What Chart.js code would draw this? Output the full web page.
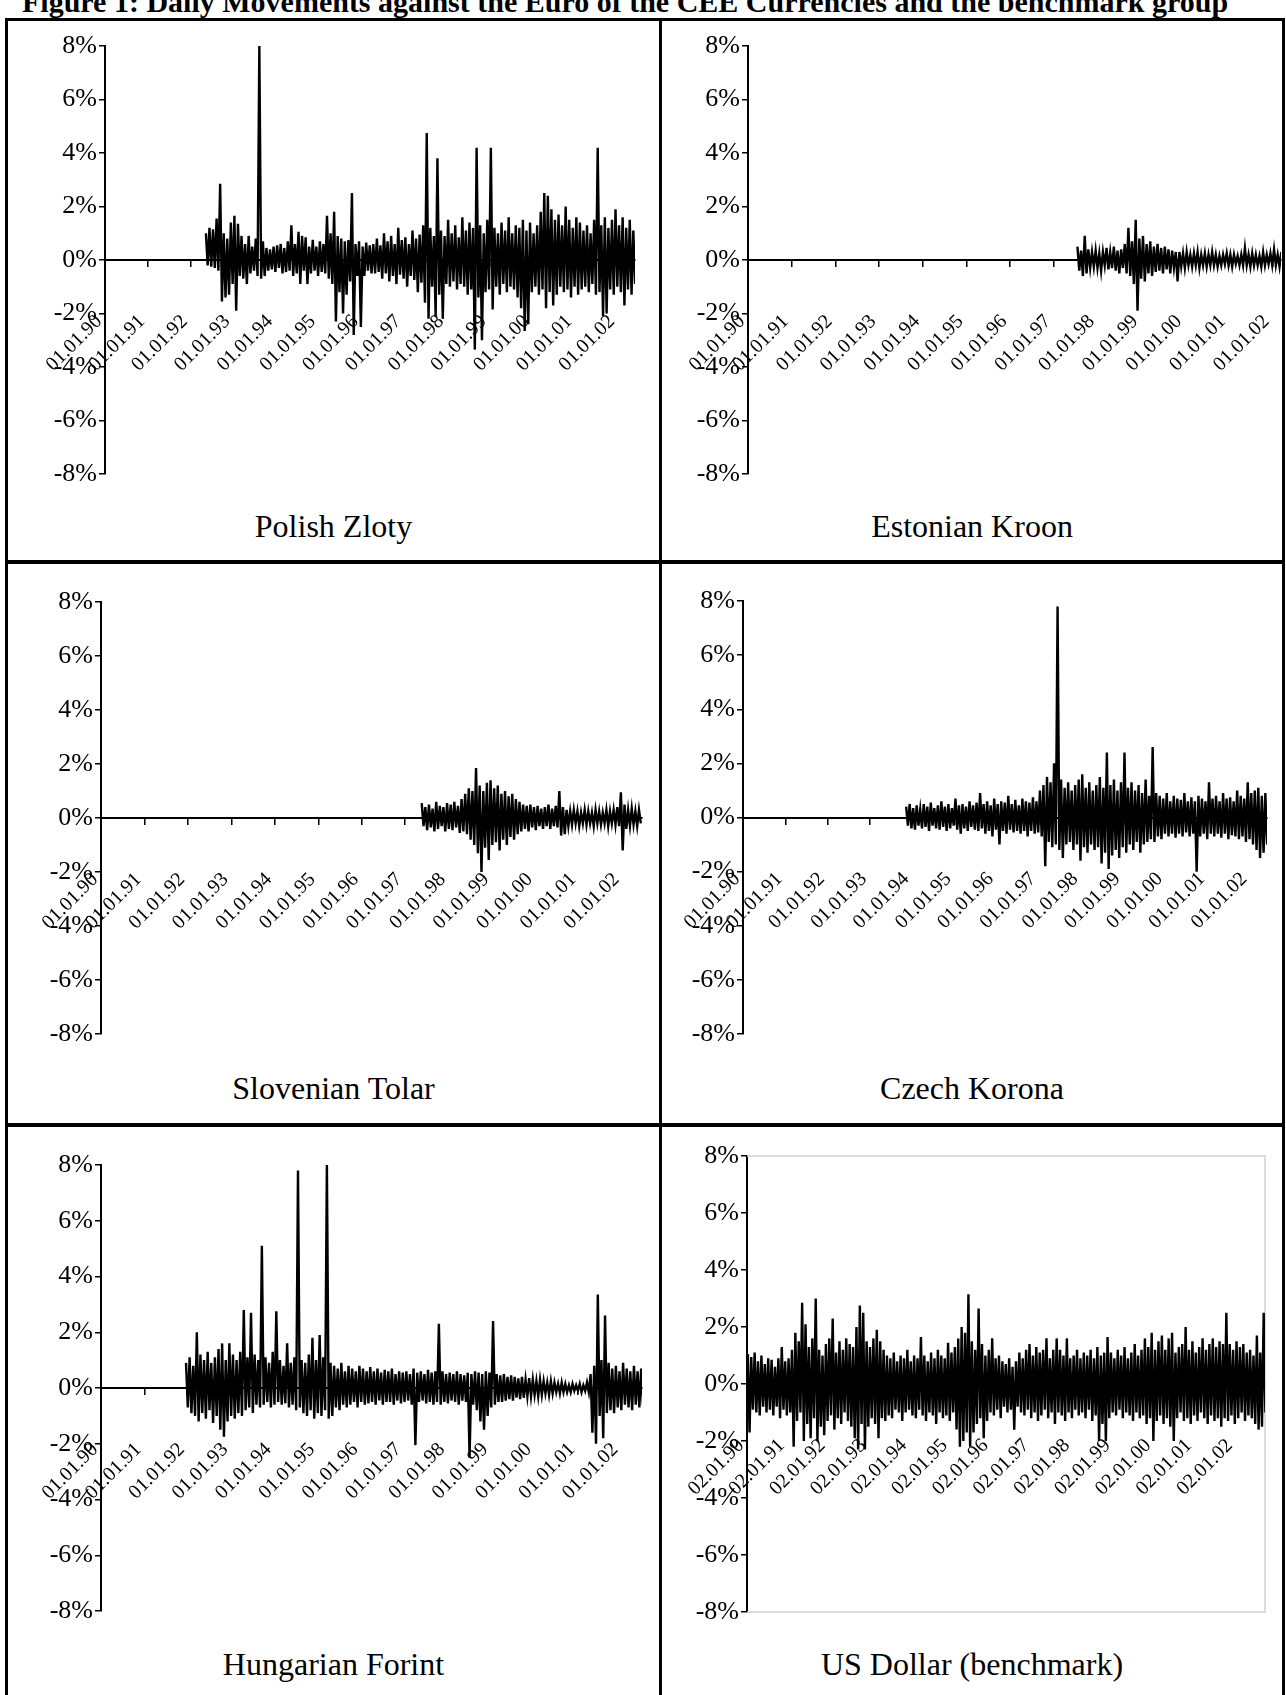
<!DOCTYPE html>
<html><head><meta charset="utf-8">
<script src="https://cdn.jsdelivr.net/npm/chart.js@4/dist/chart.umd.min.js"></script>
<style>
html,body{margin:0;padding:0;background:#fff;}
body{width:1286px;height:1695px;position:relative;overflow:hidden;font-family:"Liberation Serif","Times New Roman",serif;color:#000;}
.ln{position:absolute;background:#000;}
canvas{position:absolute;}
.pt{position:absolute;text-align:center;font-size:32px;line-height:32px;white-space:nowrap;}
#title{position:absolute;left:22px;top:-13px;font-weight:bold;font-size:30px;line-height:30px;white-space:nowrap;}
</style></head><body>
<div id="title">Figure 1: Daily Movements against the Euro of the CEE Currencies and the benchmark group</div>
<div class="ln" style="left:5px;top:18px;width:1280px;height:3px"></div>
<div class="ln" style="left:5px;top:18px;width:3px;height:1700px"></div>
<div class="ln" style="left:1282px;top:18px;width:3px;height:1700px"></div>
<div class="ln" style="left:659px;top:18px;width:3px;height:1700px"></div>
<div class="ln" style="left:5px;top:560px;width:1280px;height:4px"></div>
<div class="ln" style="left:5px;top:1123px;width:1280px;height:4px"></div>

<canvas id="c1" width="592" height="460" style="left:45px;top:30px"></canvas>
<canvas id="c2" width="595" height="460" style="left:688px;top:30px"></canvas>
<canvas id="c3" width="603" height="464" style="left:41px;top:586px"></canvas>
<canvas id="c4" width="586" height="465" style="left:683px;top:585px"></canvas>
<canvas id="c5" width="603" height="478" style="left:41px;top:1149px"></canvas>
<canvas id="c6" width="580" height="488" style="left:687px;top:1140px"></canvas>

<div class="pt" style="left:8px;width:651px;top:510px">Polish Zloty</div>
<div class="pt" style="left:662px;width:620px;top:510px">Estonian Kroon</div>
<div class="pt" style="left:8px;width:651px;top:1072px">Slovenian Tolar</div>
<div class="pt" style="left:662px;width:620px;top:1072px">Czech Korona</div>
<div class="pt" style="left:8px;width:651px;top:1648px">Hungarian Forint</div>
<div class="pt" style="left:662px;width:620px;top:1648px">US Dollar (benchmark)</div>

<script>
// ---- tick positions and labels ----
const yearTicks = [1990,1991,1992,1993,1994,1995,1996,1997,1998,1999,2000,2001,2002];
const tickLabels = ['01.01.90','01.01.91','01.01.92','01.01.93','01.01.94','01.01.95','01.01.96','01.01.97','01.01.98','01.01.99','01.01.00','01.01.01','01.01.02'];
const usdTickLabels = ['02.01.90','02.01.91','02.01.92','02.01.93','02.01.94','02.01.95','02.01.96','02.01.97','02.01.98','02.01.99','02.01.00','02.01.01','02.01.02'];

// ---- series: monthly high / low of daily % changes ----
const plnStart = 1992.34;
const plnHigh = [1.0,1.2,1.15,1.55,2.85,1.0,0.8,1.4,1.65,1.35, 0.9,0.6,0.9,0.5,0.8,8.0,0.7,0.45,0.4,0.5, 0.55,0.6,0.45,0.7,1.3,0.6,1.05,0.9,0.85,0.5, 0.75,0.5,0.7,0.6,1.65,1.0,1.8,0.9,0.8,0.7, 0.75,2.5,0.6,0.7,0.5,0.65,0.55,0.6,0.8,0.55, 1.0,0.7,0.9,0.6,1.2,0.75,0.85,0.6,1.1,0.8, 0.95,1.3,4.75,1.2,0.9,3.8,1.1,0.9,1.5,1.0, 1.3,0.85,1.6,1.1,1.4,1.2,4.2,1.3,1.0,1.5, 4.2,1.2,1.0,1.4,1.1,1.6,1.0,1.3,1.2,1.5, 1.1,1.4,1.0,1.3,1.8,2.5,2.4,1.9,1.5,1.7, 1.3,2.0,1.5,1.2,1.6,1.4,1.1,1.3,1.0,1.5, 4.2,1.3,1.6,1.2,1.5,1.9,1.3,1.6,1.2,1.5,1.1];
const plnLow = [-0.2,-0.25,-0.3,-0.4,-1.55,-1.4,-1.3,-0.9,-1.9,-0.6, -0.7,-0.9,-0.5,-0.4,-0.6,-0.7,-0.6,-0.4,-0.35,-0.45, -0.3,-0.5,-0.45,-0.4,-0.6,-0.5,-0.9,-0.4,-0.9,-0.5, -0.4,-0.6,-0.45,-0.5,-0.7,-0.9,-2.3,-1.2,-2.0,-1.3, -0.8,-2.8,-0.6,-2.5,-0.6,-0.4,-0.5,-0.5,-0.45,-0.7, -0.5,-0.8,-0.6,-0.9,-0.55,-0.7,-1.0,-0.6,-0.75,-1.2, -0.85,-1.6,-2.2,-1.0,-2.1,-1.3,-2.2,-0.9,-1.0,-0.8, -1.1,-0.9,-1.0,-1.3,-1.1,-3.35,-1.4,-3.0,-1.2,-1.1, -1.85,-1.0,-1.3,-0.9,-1.2,-1.0,-1.1,-1.4,-1.8,-2.65, -2.4,-1.2,-1.0,-1.3,-1.1,-1.8,-1.2,-1.7,-1.3,-1.0, -1.2,-1.1,-1.4,-1.0,-1.3,-1.1,-1.0,-1.2,-0.9,-1.3, -1.2,-2.1,-2.0,-1.1,-1.3,-1.0,-1.2,-1.7,-1.1,-1.3,-0.9];

const eekStart = 1997.52;
const eekHigh = [0.5,0.35,0.9,0.4,0.3,0.35,0.25,0.3,0.45,0.3, 0.5,0.35,0.4,0.6,1.2,0.7,1.5,0.8,0.9,0.6, 0.7,0.5,0.6,0.45,0.5,0.4,0.35,0.3,0.3,0.25, 0.3,0.2,0.25,0.3,0.2,0.25,0.2,0.3,0.2,0.15, 0.2,0.25,0.2,0.2,0.15,0.2,0.45,0.2,0.25,0.2, 0.15,0.3,0.2,0.25,0.4,0.2,0.3];
const eekLow = [-0.4,-0.6,-0.5,-0.3,-0.25,-0.3,-0.4,-0.2,-0.35,-0.3, -0.4,-0.5,-0.3,-0.5,-0.6,-0.9,-1.9,-0.7,-0.8,-0.5, -0.6,-0.45,-0.4,-0.5,-0.35,-0.5,-0.3,-0.8,-0.25,-0.3, -0.2,-0.25,-0.2,-0.3,-0.2,-0.25,-0.2,-0.2,-0.25,-0.2, -0.15,-0.2,-0.25,-0.15,-0.2,-0.2,-0.2,-0.25,-0.2,-0.2, -0.25,-0.2,-0.15,-0.2,-0.2,-0.25,-0.2];

const sitStart = 1997.36;
const sitHigh = [0.55,0.4,0.5,0.35,0.6,0.45,0.4,0.55,0.5,0.6, 0.45,0.7,0.9,1.1,1.0,1.85,1.2,1.0,1.3,1.4, 1.1,1.2,0.9,1.0,0.8,0.9,0.7,0.6,0.5,0.45, 0.5,0.4,0.45,0.35,0.4,0.5,0.35,0.45,1.0,0.4, 0.3,0.25,0.3,0.25,0.2,0.3,0.25,0.2,0.3,0.25, 0.2,0.3,0.25,0.3,0.4,0.95,0.5,0.3,0.35,0.25, 0.3];
const sitLow = [-0.3,-0.45,-0.35,-0.5,-0.4,-0.3,-0.5,-0.4,-0.45,-0.35, -0.55,-0.5,-0.6,-0.8,-1.0,-1.3,-2.0,-1.1,-1.55,-1.0, -0.9,-1.2,-0.8,-1.0,-0.7,-0.8,-0.6,-0.5,-0.4,-0.5, -0.35,-0.45,-0.3,-0.4,-0.3,-0.4,-0.3,-0.35,-0.65,-0.6, -0.3,-0.25,-0.2,-0.3,-0.2,-0.25,-0.2,-0.3,-0.2,-0.25, -0.2,-0.3,-0.2,-0.25,-0.3,-1.2,-0.4,-0.3,-0.25,-0.3, -0.2];

const czkStart = 1993.84;
const czkHigh = [0.4,0.5,0.35,0.45,0.3,0.5,0.4,0.55,0.35,0.45, 0.6,0.4,0.5,0.35,0.7,0.45,0.5,0.4,0.6,0.45, 0.55,0.9,0.5,0.6,0.45,0.7,0.5,0.6,0.55,0.8, 0.5,0.65,0.45,0.7,0.6,0.55,0.75,0.6,1.0,1.2, 1.5,1.3,2.0,7.8,1.4,1.1,1.3,1.0,1.2,1.4, 1.6,1.1,1.3,1.0,1.2,1.5,1.1,2.4,1.2,1.4, 1.0,1.3,2.4,1.1,1.3,1.0,1.2,0.9,1.4,0.8, 2.6,0.9,0.8,0.7,0.9,0.6,0.8,0.7,0.65,0.9, 0.6,0.75,0.6,0.8,0.7,0.6,1.3,0.7,0.8,0.6, 0.9,0.7,0.75,0.6,1.0,0.8,0.7,1.3,0.9,1.0, 1.1,0.8,0.9];
const czkLow = [-0.3,-0.4,-0.45,-0.3,-0.4,-0.35,-0.5,-0.3,-0.4,-0.45, -0.35,-0.5,-0.4,-0.3,-0.45,-0.6,-0.4,-0.5,-0.35,-0.45, -0.5,-0.4,-0.6,-0.5,-0.7,-0.45,-1.0,-0.5,-0.6,-0.45, -0.55,-0.5,-0.6,-0.5,-0.7,-0.5,-0.6,-0.55,-0.7,-1.8, -0.9,-1.1,-1.0,-1.2,-1.5,-1.0,-0.9,-1.2,-1.0,-1.6, -1.1,-1.3,-1.0,-1.2,-1.1,-1.7,-1.3,-1.9,-1.4,-1.2, -1.5,-1.1,-1.3,-1.0,-1.2,-0.9,-1.3,-1.0,-0.9,-0.8, -0.9,-0.7,-0.8,-0.6,-0.7,-0.6,-0.75,-0.6,-0.7,-0.55, -0.7,-0.6,-2.0,-0.7,-0.6,-0.8,-0.6,-0.7,-0.6,-0.75, -0.6,-0.8,-0.65,-0.7,-0.8,-0.7,-0.9,-0.8,-1.0,-1.2, -1.5,-1.3,-1.0];

const hufStart = 1991.94;
const hufHigh = [0.9,1.1,0.8,2.0,1.2,1.0,1.3,0.9,1.1,1.4, 1.6,1.0,1.6,1.2,1.0,1.3,2.8,1.1,2.7,1.2, 1.0,5.1,1.1,0.9,1.3,2.75,1.0,0.8,1.6,0.9, 1.1,7.8,1.0,0.9,1.2,1.8,1.0,1.9,1.1,8.0, 0.9,0.8,0.7,0.9,0.6,0.8,0.7,0.6,0.8,0.7, 0.6,0.75,0.6,0.7,0.55,0.65,0.6,0.7,0.5,0.6, 0.55,0.6,0.5,0.7,0.55,0.6,0.5,0.65,0.55,0.6, 2.3,0.6,0.5,0.55,0.5,0.6,0.5,0.45,0.55,0.5, 0.6,0.55,0.5,0.6,0.55,2.4,0.5,0.45,0.5,0.4, 0.45,0.4,0.35,0.4,0.3,0.35,0.3,0.25,0.3,0.25, 0.2,0.25,0.2,0.15,0.2,0.15,0.1,0.15,0.1,0.15, 0.1,0.2,0.5,0.8,3.35,1.0,2.6,0.9,0.7,0.8, 0.6,0.9,0.7,0.6,0.8,0.6,0.7];
const hufLow = [-0.7,-0.9,-1.0,-1.2,-0.9,-1.1,-0.8,-1.25,-1.0,-1.5, -1.75,-1.2,-1.0,-1.1,-0.9,-1.0,-0.8,-0.7,-0.9,-0.6, -0.7,-0.6,-0.5,-0.7,-0.6,-0.5,-0.6,-0.55,-0.7,-0.6, -0.8,-0.7,-0.9,-1.0,-0.8,-1.1,-0.9,-1.0,-0.8,-1.1, -1.0,-0.7,-0.8,-0.6,-0.7,-0.6,-0.5,-0.7,-0.5,-0.6, -0.55,-0.5,-0.6,-0.45,-0.6,-0.5,-0.5,-0.6,-0.45,-0.55, -0.5,-0.45,-0.6,-2.05,-0.5,-0.45,-0.55,-0.5,-0.6,-0.5, -0.6,-0.5,-0.55,-0.45,-0.5,-0.6,-0.45,-0.5,-2.5,-0.6, -0.8,-1.2,-1.5,-1.0,-0.7,-0.6,-0.5,-0.5,-0.45,-0.4, -0.45,-0.35,-0.4,-0.35,-0.3,-0.3,-0.25,-0.3,-0.25,-0.2, -0.25,-0.2,-0.15,-0.2,-0.15,-0.15,-0.15,-0.1,-0.1,-0.15, -0.1,-0.15,-1.6,-2.0,-1.0,-1.8,-0.9,-0.8,-0.9,-0.7, -0.8,-0.6,-0.7,-0.8,-0.6,-0.7,-0.6];

const usdStart = 1990.0;
const usdHigh = [1.05,0.95,1.1,0.8,1.0,0.7,0.9,0.85,0.6,0.9, 1.3,0.8,0.9,1.2,1.8,1.5,2.85,2.1,1.3,1.6, 3.0,1.2,1.0,1.4,1.6,2.3,1.1,1.5,1.2,1.6, 1.4,1.3,2.0,2.75,2.5,1.5,1.3,1.6,1.9,1.5, 1.2,1.0,0.9,1.1,0.8,1.0,0.9,1.2,0.8,1.0, 0.9,1.65,1.0,0.8,1.1,0.9,1.2,1.0,0.9,1.45, 1.1,1.3,1.6,2.0,1.8,3.15,1.5,1.2,2.65,1.4, 1.0,1.2,1.6,0.9,1.0,0.8,0.7,0.9,0.6,0.8, 1.1,0.9,1.2,1.4,1.0,1.3,1.1,1.2,1.6,0.9, 1.2,1.6,1.2,1.0,1.6,0.9,1.0,1.2,0.9,1.1, 1.0,1.2,0.9,1.3,1.0,1.1,1.65,1.1,0.9,1.2, 1.0,1.3,0.9,1.1,1.4,1.0,1.2,1.6,1.3,1.8, 1.2,1.5,1.7,1.2,1.6,1.8,1.1,1.3,1.4,2.0, 1.2,1.5,1.1,1.3,1.6,1.2,1.4,1.6,1.3,1.5, 1.4,2.5,1.4,1.2,1.5,1.3,1.4,1.1,1.2,1.0, 1.7,1.1,2.5];
const usdLow = [-1.7,-0.9,-1.0,-1.1,-0.8,-1.0,-0.9,-1.1,-0.8,-1.2, -0.9,-1.1,-1.0,-2.2,-1.3,-1.0,-2.0,-1.4,-1.9,-1.2, -2.0,-1.5,-1.8,-1.3,-1.1,-1.6,-1.2,-1.4,-1.0,-1.3, -1.5,-1.9,-2.3,-1.4,-2.3,-1.5,-1.2,-1.4,-1.9,-1.2, -1.3,-1.1,-1.2,-0.9,-1.0,-1.3,-1.0,-0.9,-1.1,-1.2, -0.9,-1.1,-1.3,-1.0,-1.1,-1.4,-1.0,-1.2,-1.1,-1.3, -1.0,-1.6,-2.2,-2.0,-1.7,-2.2,-1.7,-1.4,-1.2,-1.9, -1.3,-1.0,-1.1,-0.9,-1.2,-0.8,-1.0,-0.9,-1.6,-0.8, -1.0,-1.1,-0.9,-1.2,-1.0,-1.3,-1.1,-0.9,-1.2,-1.0, -1.4,-1.0,-1.1,-1.3,-1.0,-1.2,-0.9,-1.1,-1.0,-1.2, -0.9,-1.3,-1.1,-2.0,-1.4,-2.0,-1.2,-1.0,-1.1,-0.9, -1.2,-1.0,-1.1,-1.3,-1.0,-1.2,-1.1,-1.4,-1.2,-2.0, -1.3,-1.1,-1.4,-1.2,-1.5,-2.0,-1.2,-1.0,-1.3,-1.2, -1.4,-1.1,-1.3,-1.0,-1.2,-1.4,-1.1,-1.3,-1.2,-1.5, -1.2,-1.3,-1.1,-1.4,-1.2,-1.0,-1.3,-1.1,-1.2,-1.4, -1.6,-1.5,-1.0];

// monthly high and low placed within each month, joined as one line
function buildSeries(start, hi, lo) {
  const pts = [];
  for (let i = 0; i < hi.length; i++) {
    pts.push({x: start + (i + 0.25) / 12, y: hi[i]});
    pts.push({x: start + (i + 0.75) / 12, y: lo[i]});
  }
  return pts;
}

const plotBox = {
  id: 'plotBox',
  beforeDatasetsDraw(chart) {
    const a = chart.chartArea, c = chart.ctx;
    c.save();
    c.strokeStyle = '#d0d0d0';
    c.lineWidth = 1.5;
    c.beginPath();
    c.moveTo(a.left, a.top); c.lineTo(a.right, a.top); c.lineTo(a.right, a.bottom); c.lineTo(a.left, a.bottom);
    c.stroke();
    c.restore();
  }
};

function makeChart(id, start, hi, lo, xmax, labels, boxed) {
  return new Chart(document.getElementById(id), {
    type: 'line',
    data: { datasets: [{ data: buildSeries(start, hi, lo), borderColor: '#000', borderWidth: 2.4,
      pointRadius: 0, tension: 0, fill: false }] },
    options: {
      responsive: false, animation: false, events: [], parsing: false, normalized: true,
      layout: { autoPadding: false, padding: { top: 16, bottom: 16, left: 0, right: 2 } },
      plugins: { legend: { display: false }, tooltip: { enabled: false } },
      scales: {
        x: {
          type: 'linear', min: 1990, max: xmax, position: { y: 0 },
          afterBuildTicks: (axis) => { axis.ticks = yearTicks.map(v => ({ value: v })); },
          afterFit: (s) => { s.paddingLeft = 0; s.paddingRight = 0; s.paddingTop = 0; s.paddingBottom = 0; },
          grid: { drawOnChartArea: false, drawTicks: true, tickLength: 6, color: '#000', lineWidth: 1.5 },
          border: { display: true, color: '#000', width: 2 },
          ticks: { autoSkip: false, minRotation: 45, maxRotation: 45, padding: 44, labelOffset: -6,
            color: '#000', font: { family: 'Liberation Serif', size: 20 },
            callback: (v, i) => labels[i] }
        },
        y: {
          min: -8, max: 8,
          afterFit: (s) => { s.width = 60; s.paddingTop = 0; s.paddingBottom = 0; },
          ticks: { stepSize: 2, padding: 2, color: '#000', font: { family: 'Liberation Serif', size: 26 },
            callback: (v) => v + '%' },
          grid: { drawOnChartArea: false, drawTicks: true, tickLength: 6, color: '#000', lineWidth: 1.5 },
          border: { display: true, color: '#000', width: 2 }
        }
      }
    },
    plugins: boxed ? [plotBox] : []
  });
}

makeChart('c1', plnStart, plnHigh, plnLow, 2002.4, tickLabels, false);
makeChart('c2', eekStart, eekHigh, eekLow, 2002.2, tickLabels, false);
makeChart('c3', sitStart, sitHigh, sitLow, 2002.45, tickLabels, false);
makeChart('c4', czkStart, czkHigh, czkLow, 2002.4, tickLabels, false);
makeChart('c5', hufStart, hufHigh, hufLow, 2002.48, tickLabels, false);
makeChart('c6', usdStart, usdHigh, usdLow, 2002.72, usdTickLabels, true);
</script>
</body></html>
